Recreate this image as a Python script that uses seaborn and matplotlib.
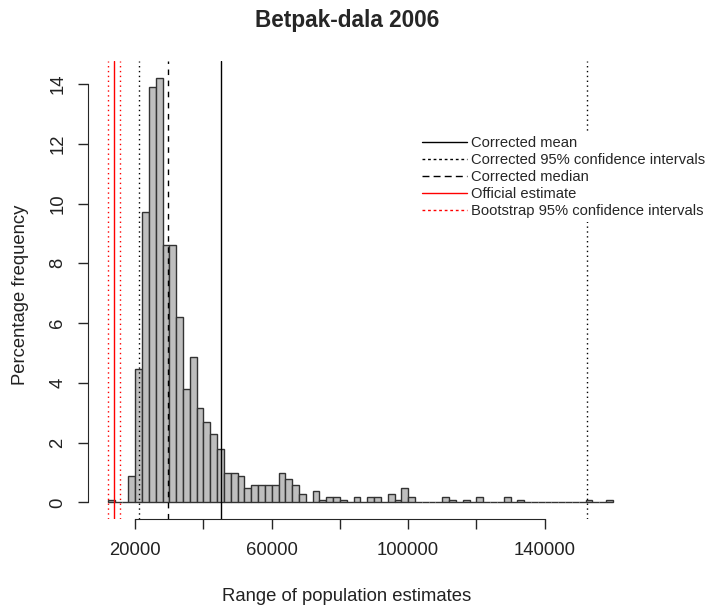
import numpy as np
import pandas as pd
import seaborn as sns
import matplotlib.pyplot as plt
from matplotlib.lines import Line2D

# histogram bins (width 2000), left edges from 12000 to 158000
bin_width = 2000
bin_start = 12000
pct_freq = [
    0.1, 0, 0, 0.88, 4.48, 9.7, 13.9, 14.2, 8.6, 8.6,        # 12000-30000
    6.2, 3.8, 4.87, 3.17, 2.69, 2.3, 1.78, 1.0, 1.0, 0.88,   # 32000-50000
    0.49, 0.6, 0.6, 0.6, 0.6, 1.0, 0.8, 0.6, 0.3, 0,         # 52000-70000
    0.4, 0.1, 0.2, 0.2, 0.1, 0, 0.2, 0, 0.2, 0.2,            # 72000-90000
    0, 0.3, 0.1, 0.5, 0.2, 0, 0, 0, 0, 0.2,                  # 92000-110000
    0.1, 0, 0.1, 0, 0.2, 0, 0, 0, 0.2, 0,                    # 112000-130000
    0.1, 0, 0, 0, 0, 0, 0, 0, 0, 0,                          # 132000-150000
    0.1, 0, 0, 0.1,                                          # 152000-158000
]

# reference lines
corrected_mean = 45000
corrected_ci = [21000, 152300]
corrected_median = 29700
official_estimate = 13700
bootstrap_ci = [12100, 15500]

x_ticks = [20000, 60000, 100000, 140000]
x_minor = [40000, 80000, 120000]
y_ticks = [0, 2, 4, 6, 8, 10, 12, 14]

legend_labels = ["Corrected mean", "Corrected 95% confidence intervals",
                 "Corrected median", "Official estimate",
                 "Bootstrap 95% confidence intervals"]

edges = [bin_start + bin_width * i for i in range(len(pct_freq) + 1)]
df = pd.DataFrame({"mid": [e + bin_width / 2 for e in edges[:-1]], "pct": pct_freq})

sns.set_style("ticks")
plt.rcParams["font.family"] = ["Liberation Sans", "DejaVu Sans"]

fig = plt.figure(figsize=(7.12, 6.09), dpi=100)
ax = fig.add_axes([0.1232, 0.147, 0.766, 0.7529])

sns.histplot(data=df, x="mid", weights="pct", bins=edges, stat="count",
             color="#bebebe", edgecolor="#333333", linewidth=1, alpha=1, ax=ax)

ax.axvline(corrected_mean, color="black", lw=1)
for v in corrected_ci:
    ax.axvline(v, color="black", lw=1, ls=(0, (1, 2.5)))
ax.axvline(corrected_median, color="black", lw=1, ls=(0, (4, 4)))
ax.axvline(official_estimate, color="red", lw=1)
for v in bootstrap_ci:
    ax.axvline(v, color="red", lw=1, ls=(0, (1, 2.5)))

# R-style 4% padding
xr = edges[-1] - edges[0]
ax.set_xlim(edges[0] - 0.04 * xr, edges[-1] + 0.04 * xr)
ymax = max(pct_freq)
ax.set_ylim(-0.04 * ymax, ymax * 1.04)

sns.despine(ax=ax)
ax.spines["left"].set_bounds(y_ticks[0], y_ticks[-1])
ax.spines["bottom"].set_bounds(x_ticks[0], x_ticks[-1])
ax.set_xticks(x_ticks + x_minor)
ax.set_xticklabels([str(t) for t in x_ticks] + ["" for t in x_minor])
ax.set_yticks(y_ticks)
ax.set_yticklabels([str(t) for t in y_ticks], rotation=90, va="center", ha="center")
ax.tick_params(axis="x", length=7.5, width=1, pad=9, labelsize=13.3, labelcolor="#222222")
ax.tick_params(axis="y", length=7.5, width=1, pad=14, labelsize=13.3, labelcolor="#222222")

ax.set_xlabel("Range of population estimates", fontsize=13.3, color="#222222")
ax.xaxis.set_label_coords(0.475, -0.168)
ax.xaxis.label.set_va("center")
ax.set_ylabel("Percentage frequency", fontsize=13.3, color="#222222")
ax.yaxis.set_label_coords(-0.124, 0.49)
ax.yaxis.label.set_va("center")
ax.set_title("Betpak-dala 2006", fontsize=16.3, fontweight="bold",
             x=0.475, y=1.089, va="center", pad=0)

handles = [
    Line2D([], [], color="black", lw=1),
    Line2D([], [], color="black", lw=1, ls=(0, (2, 2))),
    Line2D([], [], color="black", lw=1, ls=(0, (5, 3))),
    Line2D([], [], color="red", lw=1),
    Line2D([], [], color="red", lw=1, ls=(0, (2, 2))),
]
# white legend box without border, it hides the right CI line like in R
fig.legend(handles, legend_labels, loc="upper left",
           bbox_to_anchor=(417.3 / 712, 1 - 131.6 / 609), frameon=True,
           facecolor="white", edgecolor="none", framealpha=1, fancybox=False,
           fontsize=10.6, handlelength=3.1, handletextpad=0.25,
           labelspacing=0.2, borderpad=0.3, borderaxespad=0)

fig.savefig("out.png", dpi=100)
